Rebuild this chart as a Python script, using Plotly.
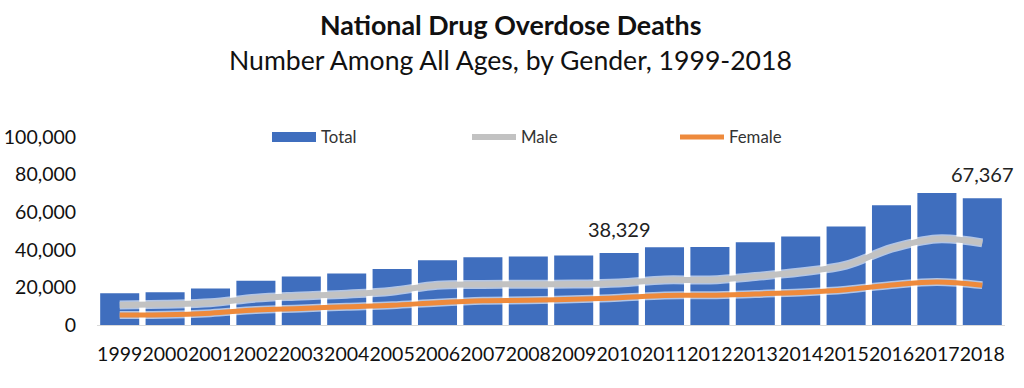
import plotly.graph_objects as go

years = [str(y) for y in range(1999, 2019)]
total = [16849, 17415, 19394, 23518, 25785, 27424, 29813, 34425, 36010, 36450,
         37004, 38329, 41340, 41502, 43982, 47055, 52404, 63632, 70237, 67367]
male = [10700, 11100, 11800, 14300, 15400, 16400, 18000, 21200, 21600, 21700,
        21800, 22400, 24000, 24000, 25800, 28200, 31800, 40800, 45800, 43700]
female = [5300, 5400, 6300, 8000, 8800, 9700, 10500, 11900, 12900, 13100,
          13700, 14500, 15700, 15800, 16500, 17300, 18700, 21300, 22900, 21200]
label_years = ["2010", "2018"]
label_values = [38329, 67367]

FONT = "Lato"
BLUE = "#3F6EBE"

fig = go.Figure()
fig.add_trace(go.Bar(x=years, y=total, name="Total", marker=dict(color=BLUE, line=dict(width=0)),
                     showlegend=False))
# legend stand-in for Total (wide swatch)
fig.add_trace(go.Scatter(x=[years[0]], y=[None], mode="lines", name="Total",
                         line=dict(color=BLUE, width=10), legend="legend"))
# halos
fig.add_trace(go.Scatter(x=years, y=male, mode="lines", line=dict(color="rgba(255,255,255,0.6)", width=9, shape="spline"),
                         showlegend=False, hoverinfo="skip"))
fig.add_trace(go.Scatter(x=years, y=male, mode="lines", name="Male",
                         line=dict(color="#C2C2C2", width=6, shape="spline"), legend="legend2"))
fig.add_trace(go.Scatter(x=years, y=female, mode="lines", line=dict(color="rgba(255,255,255,0.6)", width=8, shape="spline"),
                         showlegend=False, hoverinfo="skip"))
fig.add_trace(go.Scatter(x=years, y=female, mode="lines", name="Female",
                         line=dict(color="#EE8A3C", width=5, shape="spline"), legend="legend3"))

for yr, v in zip(label_years, label_values):
    fig.add_annotation(x=years.index(yr), y=v, text=f"{v:,}", showarrow=False, yshift=24,
                       font=dict(family=FONT, size=20, color="#222"))

fig.add_annotation(xref="paper", yref="paper", x=0.455, y=1, yshift=112, xanchor="center", yanchor="middle",
                   text="<b>National Drug Overdose Deaths</b>", showarrow=False,
                   font=dict(family=FONT, size=26.8, color="#111"))
fig.add_annotation(xref="paper", yref="paper", x=0.455, y=1, yshift=77, xanchor="center", yanchor="middle",
                   text="Number Among All Ages, by Gender, 1999-2018", showarrow=False,
                   font=dict(family=FONT, size=26.6, color="#111"))

leg_common = dict(orientation="h", yref="paper", y=1.0, yanchor="middle", xanchor="left", itemwidth=44,
                  font=dict(family=FONT, size=16.8, color="#333"), bgcolor="rgba(0,0,0,0)")
fig.update_layout(
    width=1024, height=388,
    margin=dict(l=97, r=19, t=137, b=63, autoexpand=False),
    paper_bgcolor="white", plot_bgcolor="white",
    bargap=0.14,
    legend=dict(x=(275 - 97 - 8) / 908, **leg_common),
    legend2=dict(x=(475 - 97 - 8) / 908, **leg_common),
    legend3=dict(x=(683 - 97 - 8) / 908, **leg_common),
    xaxis=dict(type="category", categoryorder="array", categoryarray=years, range=[-0.5, 19.5],
               showgrid=False, showline=True, linecolor="#D9D9D9", linewidth=1,
               ticks="outside", ticklen=12, tickcolor="rgba(0,0,0,0)",
               tickfont=dict(family=FONT, size=19.5, color="#111"), tickangle=0),
    yaxis=dict(range=[0, 100000], tickvals=[0, 20000, 40000, 60000, 80000, 100000],
               tickformat=",", showgrid=False, zeroline=False, showline=False,
               ticks="outside", ticklen=16, tickcolor="rgba(0,0,0,0)",
               tickfont=dict(family=FONT, size=19.5, color="#111")),
)
fig.write_html("out.html", config={"displayModeBar": False},
               post_script="document.body.style.margin='0';")
